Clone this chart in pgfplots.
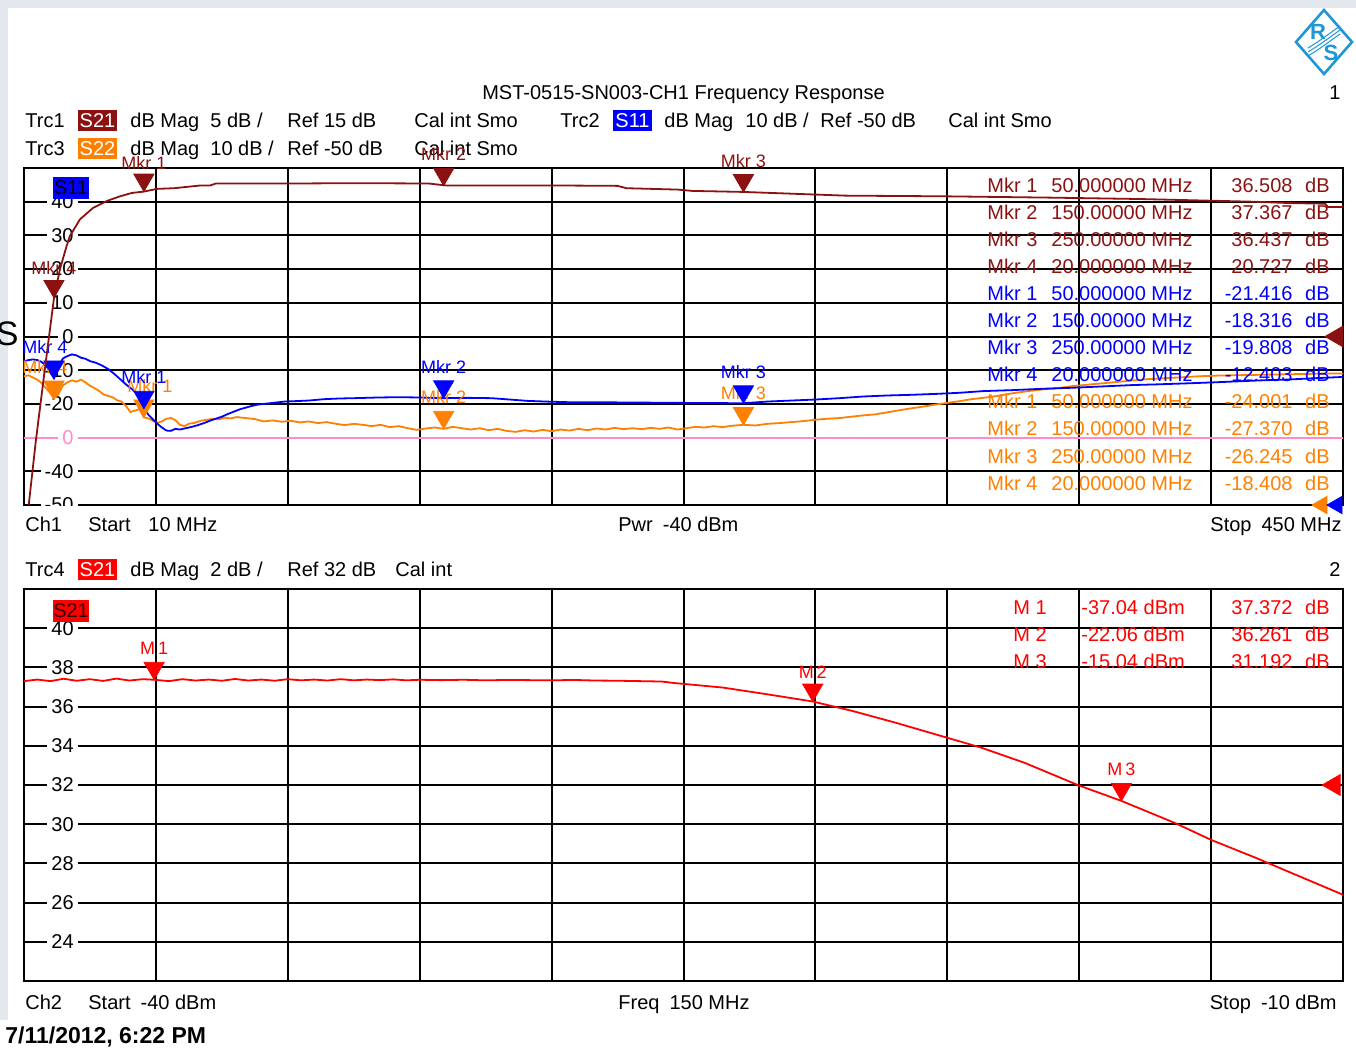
\documentclass[border=0pt]{standalone}
\usepackage{pgfplots}
\pgfplotsset{compat=1.18}
\usepackage{fontspec}
\setmainfont{Liberation Sans}
\definecolor{trcA}{RGB}{140,18,18}
\definecolor{trcB}{RGB}{0,0,255}
\definecolor{trcC}{RGB}{255,128,0}
\definecolor{trcD}{RGB}{255,0,0}
\definecolor{pinkl}{RGB}{255,140,200}
\definecolor{framegray}{RGB}{226,232,238}
\definecolor{rslogo}{RGB}{30,150,215}
\tikzset{
  tx/.style={anchor=base west, inner sep=0pt},
  txr/.style={anchor=base east, inner sep=0pt},
  tagbox/.style={inner sep=0pt, minimum width=19.5pt, minimum height=10.5pt, text=white},
  ylab/.style={anchor=east, fill=white, inner xsep=2pt, inner ysep=0.5pt},
  mlab/.style={anchor=base, inner sep=0pt, font=\fontsize{9}{10}\selectfont, yshift=12.5pt},
}
\pgfplotsset{
  vnagrid/.style={scale only axis, anchor=north west, width=659.5pt,
    xticklabels={}, yticklabels={}, major tick length=0pt,
    grid=major, major grid style={black, line width=1pt},
    axis line style={black, line width=1pt}, clip mode=individual},
  mkr/.style={only marks, mark=triangle*, mark size=5.8pt, mark options={yshift=5.8pt, rotate=180}},
  refm/.style={only marks, mark=triangle*, mark size=6pt, mark options={rotate=90}},
}
\begin{document}
\fontsize{10}{12}\selectfont
\begin{tikzpicture}
\path[use as bounding box] (0pt,0pt) rectangle (678pt,-525pt);
\begin{scope}[x=0.5pt,y=-0.5pt]
\fill[framegray] (0,0) rectangle (1356,8);
\fill[framegray] (0,0) rectangle (8,1020);
% R&S logo
\draw[rslogo, line width=1.3pt] (1324,10) -- (1352,42) -- (1324,74) -- (1296,42) -- cycle;
\node[rslogo, inner sep=0pt, font=\bfseries\fontsize{11}{11}\selectfont] at (1318,32) {R};
\node[rslogo, inner sep=0pt, font=\bfseries\fontsize{11}{11}\selectfont] at (1331,53) {S};
\draw[rslogo, line width=0.5pt] (1308,52) .. controls (1318,46) and (1326,40) .. (1340,30);
\draw[rslogo, line width=0.5pt] (1308,56) .. controls (1318,50) and (1326,44) .. (1340,34);
\draw[rslogo, line width=0.5pt] (1308,48) .. controls (1318,42) and (1326,36) .. (1340,26);
% big S at left
\node[anchor=base east, inner sep=0pt, font=\fontsize{17}{17}\selectfont] at (19,345) {S};
% title and headers
\node[anchor=base, inner sep=0pt] at (683.5,99) {MST-0515-SN003-CH1 Frequency Response};
\node[txr] at (1341,99) {1};
\node[tx] at (25,127) {Trc1};
\node[tagbox, fill=trcA] at (97.5,120.5) {S21};
\node[tx] at (130,127) {dB Mag};
\node[tx] at (210,127) {5 dB /};
\node[tx] at (287,127) {Ref 15 dB};
\node[tx] at (414,127) {Cal int Smo};
\node[tx] at (560,127) {Trc2};
\node[tagbox, fill=trcB] at (632.5,120.5) {S11};
\node[tx] at (664,127) {dB Mag};
\node[tx] at (745,127) {10 dB /};
\node[tx] at (820,127) {Ref -50 dB};
\node[tx] at (948,127) {Cal int Smo};
\node[tx] at (25,155) {Trc3};
\node[tagbox, fill=trcC] at (97.5,148.5) {S22};
\node[tx] at (130,155) {dB Mag};
\node[tx] at (210,155) {10 dB /};
\node[tx] at (287,155) {Ref -50 dB};
\node[tx] at (414,155) {Cal int Smo};
% footer channel 1
\node[tx] at (25,531) {Ch1};
\node[tx] at (88,531) {Start};
\node[tx] at (148,531) {10 MHz};
\node[tx] at (618,531) {Pwr\enspace -40 dBm};
\node[txr] at (1342,531) {Stop\enspace 450 MHz};
% header channel 2
\node[tx] at (25,576) {Trc4};
\node[tagbox, fill=trcD] at (97.5,569.5) {S21};
\node[tx] at (130,576) {dB Mag};
\node[tx] at (210,576) {2 dB /};
\node[tx] at (287,576) {Ref 32 dB};
\node[tx] at (395,576) {Cal int};
\node[txr] at (1341,576) {2};
% footer channel 2
\node[tx] at (25,1009) {Ch2};
\node[tx] at (88,1009) {Start\enspace -40 dBm};
\node[tx] at (618,1009) {Freq\enspace 150 MHz};
\node[txr] at (1337,1009) {Stop\enspace -10 dBm};
\node[tx, font=\bfseries\fontsize{11.5}{12}\selectfont] at (5,1043) {7/11/2012, 6:22 PM};
\end{scope}

% ---------------- channel 1, S11 / S22 scale ----------------
\begin{axis}[vnagrid, at={(12pt,-84pt)}, height=168.5pt,
  xmin=10, xmax=450, ymin=-50, ymax=50,
  xtick={54,98,...,406}, ytick={-40,-30,...,40}]
\addplot[pinkl, line width=1pt] coordinates {(10,-30) (450,-30)};
\node[ylab] at (axis cs:28,40) {40};
\node[ylab] at (axis cs:28,30) {30};
\node[ylab] at (axis cs:28,20) {20};
\node[ylab] at (axis cs:28,10) {10};
\node[ylab] at (axis cs:28,0) {0};
\node[ylab] at (axis cs:28,-10) {-10};
\node[ylab] at (axis cs:28,-20) {-20};
\node[ylab, text=pinkl] at (axis cs:28,-30) {0};
\node[ylab] at (axis cs:28,-40) {-40};
\begin{scope}
\clip (rel axis cs:0,0) rectangle (rel axis cs:1,1);
\node[ylab] at (axis cs:28,-50) {-50};
\end{scope}
\node[inner sep=0pt, minimum width=18pt, minimum height=11pt, fill=trcB, text=black] at (axis cs:25.7,44.2) {S11};
% S22 trace
\addplot[trcC, line width=0.9pt] coordinates {
(10,-11.8) (11.5,-11.5) (13,-12.2) (14,-12.6) (15.5,-13.5) (17,-15.0) (18.5,-16.5) (20,-18.4)
(21.5,-17.0) (23,-14.5) (24.5,-13.6) (26,-13.0) (27.5,-13.4) (29,-12.8) (30.5,-13.6) (32,-14.6)
(33.5,-15.3) (35,-16.1) (36.5,-17.2) (38,-17.6) (39.5,-18.0) (41,-18.9) (42.5,-19.3) (44,-20.6)
(45.5,-22.4) (47,-22.0) (48.5,-21.5) (50,-24.0) (51.5,-24.3) (53,-25.0) (54.5,-25.6) (56,-25.2)
(57.5,-24.4) (59,-24.2) (60.5,-24.8) (62,-26.2) (63.5,-26.6) (65,-25.9) (67,-25.6) (69,-25.0)
(71,-24.7) (73,-24.4) (75,-24.6) (77,-24.1) (79,-24.3) (81,-23.9) (84,-24.2) (87,-24.5)
(90,-25.2) (93,-24.9) (96,-25.3) (99,-25.0) (102,-25.5) (105,-25.2) (108,-25.7) (111,-25.4)
(114,-25.9) (117,-26.3) (120,-25.9) (123,-26.2) (126,-26.6) (129,-26.2) (132,-26.9) (135,-26.6)
(138,-27.2) (141,-27.7) (144,-27.3) (147,-27.0) (150,-27.4) (153,-26.8) (156,-27.2) (159,-27.6)
(162,-27.2) (165,-27.8) (168,-27.4) (171,-28.0) (174,-28.3) (177,-27.8) (180,-28.2) (183,-27.7)
(186,-28.1) (189,-27.6) (192,-27.9) (195,-27.4) (198,-27.8) (201,-27.3) (204,-27.6) (207,-27.1)
(210,-27.5) (213,-27.2) (216,-27.5) (219,-27.1) (222,-27.4) (225,-27.0) (228,-27.6) (231,-27.2)
(234,-26.8) (237,-27.0) (240,-26.6) (243,-26.9) (246,-26.5) (250,-26.2) (254,-26.4) (258,-25.9)
(262,-25.7) (266,-25.4) (270,-25.1) (274,-24.7) (278,-24.4) (282,-24.2) (286,-23.8) (290,-23.4)
(294,-23.1) (298,-22.5) (302,-21.9) (306,-21.3) (310,-20.8) (314,-20.2) (318,-19.7) (322,-19.2)
(326,-18.6) (330,-18.2) (335,-17.6) (340,-16.8) (345,-16.2) (350,-15.7) (355,-15.3) (360,-14.7)
(366,-14.2) (372,-13.7) (378,-13.2) (384,-12.7) (390,-12.4) (396,-12.1) (402,-11.8) (408,-11.6)
(414,-11.5) (420,-11.4) (426,-11.3) (432,-11.2) (438,-11.1) (444,-11.0) (450,-11.0)};
% S11 trace
\addplot[trcB, line width=0.9pt] coordinates {
(10,-7.3) (11.5,-7.0) (13,-6.8) (14.5,-7.0) (16,-7.6) (17.5,-8.8) (19,-11.0) (20,-12.4)
(21,-10.5) (22,-8.0) (23,-6.5) (24.5,-5.8) (26,-5.3) (27.5,-5.6) (29,-6.3) (30.5,-6.6)
(32,-7.3) (34,-7.8) (36,-8.6) (38,-9.6) (40,-11.0) (42,-12.6) (44,-14.2) (46,-15.6)
(47.5,-16.8) (49,-19.5) (50,-21.4) (51.5,-23.2) (53,-24.6) (54.5,-25.9) (56,-27.0) (57.5,-27.9)
(59,-28.0) (60.5,-27.4) (62,-27.6) (64,-27.2) (66,-26.8) (68,-26.3) (70,-25.7) (72,-25.0)
(74,-24.4) (76,-23.8) (78,-23.0) (80,-22.3) (82,-21.6) (84,-21.1) (86,-20.6) (88,-20.2)
(91,-19.9) (94,-19.6) (97,-19.3) (100,-19.2) (105,-19.0) (110,-18.6) (115,-18.4) (120,-18.3)
(128,-18.1) (135,-18.0) (142,-18.1) (150,-18.3) (158,-18.2) (166,-18.3) (172,-18.7) (178,-19.1)
(184,-19.3) (192,-19.5) (200,-19.5) (215,-19.6) (230,-19.7) (250,-19.8) (258,-19.3) (266,-19.0)
(274,-18.7) (282,-18.3) (290,-17.8) (298,-17.5) (306,-17.3) (315,-17.0) (322,-16.7) (330,-16.2)
(340,-15.9) (350,-15.5) (360,-15.2) (370,-14.8) (380,-14.4) (388,-14.2) (398,-13.9) (407,-13.6)
(415,-13.3) (423,-13.0) (431,-12.8) (440,-12.4) (450,-12.0)};
% S22 markers
\addplot[trcC, mkr] coordinates {(20,-18.408) (50,-24.001) (150,-27.370) (250,-26.245)};
\node[mlab, text=trcC, xshift=-4.5pt] at (axis cs:20,-18.408) {Mkr 4};
\node[mlab, text=trcC, xshift=3pt] at (axis cs:50,-24.001) {Mkr 1};
\node[mlab, text=trcC] at (axis cs:150,-27.370) {Mkr 2};
\node[mlab, text=trcC] at (axis cs:250,-26.245) {Mkr 3};
% S11 markers
\addplot[trcB, mkr] coordinates {(20,-12.403) (50,-21.416) (150,-18.316) (250,-19.808)};
\node[mlab, text=trcB, xshift=-4.5pt] at (axis cs:20,-12.403) {Mkr 4};
\node[mlab, text=trcB] at (axis cs:50,-21.416) {Mkr 1};
\node[mlab, text=trcB] at (axis cs:150,-18.316) {Mkr 2};
\node[mlab, text=trcB] at (axis cs:250,-19.808) {Mkr 3};
% reference position indicators
\addplot[trcC, refm, mark size=5pt] coordinates {(443,-50)};
\addplot[trcB, refm, mark size=5pt] coordinates {(448,-50)};
\end{axis}

% ---------------- channel 1, S21 scale (5 dB/div, ref 15 dB) ----------------
\begin{axis}[scale only axis, anchor=north west, width=659.5pt, at={(12pt,-84pt)}, height=168.5pt,
  xmin=10, xmax=450, ymin=-10, ymax=40, hide axis, clip mode=individual]
\addplot[trcA, line width=0.9pt] coordinates {
(10,-14) (11.6,-9.9) (14.0,-0.3) (17,10.3) (20,20.7) (22,25.0) (24.2,28.4) (25.3,29.9)
(28.7,32.4) (33.1,34.1) (37.6,35.1) (42,35.8) (46,36.3) (50,36.5) (54.3,36.9) (60,37.0)
(68.7,37.4) (72,37.4) (74,37.7) (90,37.7) (100,37.7) (120,37.75) (145,37.7) (151,37.4)
(190,37.4) (208,37.35) (211,37.0) (228,36.8) (233,36.6) (250,36.45) (256,36.35) (284,35.9)
(317,35.8) (353,35.6) (382,35.4) (420,35.0) (432,34.8) (444,34.7) (445,34.2) (450,34.2)};
\addplot[trcA, mkr] coordinates {(20,20.727) (50,36.508) (150,37.367) (250,36.437)};
\node[mlab, text=trcA, yshift=-1pt] at (axis cs:20,20.727) {Mkr 4};
\node[mlab, text=trcA, yshift=-1.5pt] at (axis cs:50,36.508) {Mkr 1};
\node[mlab, text=trcA] at (axis cs:150,37.367) {Mkr 2};
\node[mlab, text=trcA] at (axis cs:250,36.437) {Mkr 3};
\addplot[trcA, refm] coordinates {(448,15)};
\end{axis}

% ---------------- channel 2 ----------------
\begin{axis}[vnagrid, at={(12pt,-294.5pt)}, height=196pt,
  xmin=-40, xmax=-10, ymin=22, ymax=42,
  xtick={-37,-34,...,-13}, ytick={24,26,...,40}]
\node[ylab] at (axis cs:-38.77,40) {40};
\node[ylab] at (axis cs:-38.77,38) {38};
\node[ylab] at (axis cs:-38.77,36) {36};
\node[ylab] at (axis cs:-38.77,34) {34};
\node[ylab] at (axis cs:-38.77,32) {32};
\node[ylab] at (axis cs:-38.77,30) {30};
\node[ylab] at (axis cs:-38.77,28) {28};
\node[ylab] at (axis cs:-38.77,26) {26};
\node[ylab] at (axis cs:-38.77,24) {24};
\node[inner sep=0pt, minimum width=18pt, minimum height=11pt, fill=trcD, text=black!80!red] at (axis cs:-38.93,40.88) {S21};
\addplot[trcD, line width=0.9pt] coordinates {
(-40,37.30) (-39.7,37.38) (-39.4,37.30) (-39.1,37.42) (-38.8,37.32) (-38.5,37.40) (-38.2,37.31)
(-37.9,37.43) (-37.6,37.33) (-37.3,37.40) (-37.04,37.37) (-36.7,37.30) (-36.4,37.40) (-36.1,37.33)
(-35.8,37.38) (-35.5,37.32) (-35.2,37.41) (-34.9,37.33) (-34.6,37.38) (-34.3,37.32) (-34.0,37.40)
(-33.7,37.34) (-33.4,37.38) (-33.1,37.33) (-32.8,37.40) (-32.5,37.34) (-32.2,37.38) (-31.9,37.35)
(-31.6,37.39) (-31.3,37.34) (-31.0,37.37) (-30.5,37.35) (-30.0,37.37) (-29.5,37.34) (-29.0,37.36)
(-28.5,37.35) (-28.0,37.34) (-27.5,37.36) (-27.0,37.33) (-26.5,37.32) (-26.0,37.30) (-25.5,37.28)
(-25.2,37.20) (-25.0,37.16) (-24.1,36.97) (-23.1,36.63) (-22.06,36.26) (-21.16,35.78)
(-20.18,35.18) (-19.0,34.41) (-18.22,33.90) (-17.24,33.13) (-16.01,31.98) (-15.04,31.19)
(-13.81,30.05) (-13.0,29.20) (-12.0,28.30) (-11.0,27.35) (-10.0,26.40)};
\addplot[trcD, mkr] coordinates {(-37.04,37.372) (-22.06,36.261) (-15.04,31.192)};
\node[mlab, text=trcD] at (axis cs:-37.04,37.372) {M\,1};
\node[mlab, text=trcD, yshift=-1pt] at (axis cs:-22.06,36.261) {M\,2};
\node[mlab, text=trcD] at (axis cs:-15.04,31.192) {M\,3};
\addplot[trcD, refm] coordinates {(-10.2,32)};
\end{axis}

% ---------------- marker tables ----------------
\begin{scope}[x=0.5pt,y=-0.5pt]
\node[tx, text=trcA] at (987,192) {Mkr 1}; \node[tx, text=trcA] at (1051,192) {50.000000 MHz};
\node[txr, text=trcA] at (1293,192) {36.508}; \node[txr, text=trcA] at (1330,192) {dB};
\node[tx, text=trcA] at (987,219) {Mkr 2}; \node[tx, text=trcA] at (1051,219) {150.00000 MHz};
\node[txr, text=trcA] at (1293,219) {37.367}; \node[txr, text=trcA] at (1330,219) {dB};
\node[tx, text=trcA] at (987,246) {Mkr 3}; \node[tx, text=trcA] at (1051,246) {250.00000 MHz};
\node[txr, text=trcA] at (1293,246) {36.437}; \node[txr, text=trcA] at (1330,246) {dB};
\node[tx, text=trcA] at (987,273) {Mkr 4}; \node[tx, text=trcA] at (1051,273) {20.000000 MHz};
\node[txr, text=trcA] at (1293,273) {20.727}; \node[txr, text=trcA] at (1330,273) {dB};
\node[tx, text=trcB] at (987,300) {Mkr 1}; \node[tx, text=trcB] at (1051,300) {50.000000 MHz};
\node[txr, text=trcB] at (1293,300) {-21.416}; \node[txr, text=trcB] at (1330,300) {dB};
\node[tx, text=trcB] at (987,327) {Mkr 2}; \node[tx, text=trcB] at (1051,327) {150.00000 MHz};
\node[txr, text=trcB] at (1293,327) {-18.316}; \node[txr, text=trcB] at (1330,327) {dB};
\node[tx, text=trcB] at (987,354) {Mkr 3}; \node[tx, text=trcB] at (1051,354) {250.00000 MHz};
\node[txr, text=trcB] at (1293,354) {-19.808}; \node[txr, text=trcB] at (1330,354) {dB};
\node[tx, text=trcB] at (987,381) {Mkr 4}; \node[tx, text=trcB] at (1051,381) {20.000000 MHz};
\node[txr, text=trcB] at (1293,381) {-12.403}; \node[txr, text=trcB] at (1330,381) {dB};
\node[tx, text=trcC] at (987,408) {Mkr 1}; \node[tx, text=trcC] at (1051,408) {50.000000 MHz};
\node[txr, text=trcC] at (1293,408) {-24.001}; \node[txr, text=trcC] at (1330,408) {dB};
\node[tx, text=trcC] at (987,435) {Mkr 2}; \node[tx, text=trcC] at (1051,435) {150.00000 MHz};
\node[txr, text=trcC] at (1293,435) {-27.370}; \node[txr, text=trcC] at (1330,435) {dB};
\node[tx, text=trcC] at (987,463) {Mkr 3}; \node[tx, text=trcC] at (1051,463) {250.00000 MHz};
\node[txr, text=trcC] at (1293,463) {-26.245}; \node[txr, text=trcC] at (1330,463) {dB};
\node[tx, text=trcC] at (987,490) {Mkr 4}; \node[tx, text=trcC] at (1051,490) {20.000000 MHz};
\node[txr, text=trcC] at (1293,490) {-18.408}; \node[txr, text=trcC] at (1330,490) {dB};
\node[tx, text=trcD] at (1013,614) {M 1}; \node[tx, text=trcD] at (1081,614) {-37.04 dBm};
\node[txr, text=trcD] at (1293,614) {37.372}; \node[txr, text=trcD] at (1330,614) {dB};
\node[tx, text=trcD] at (1013,641) {M 2}; \node[tx, text=trcD] at (1081,641) {-22.06 dBm};
\node[txr, text=trcD] at (1293,641) {36.261}; \node[txr, text=trcD] at (1330,641) {dB};
\node[tx, text=trcD] at (1013,668) {M 3}; \node[tx, text=trcD] at (1081,668) {-15.04 dBm};
\node[txr, text=trcD] at (1293,668) {31.192}; \node[txr, text=trcD] at (1330,668) {dB};
\end{scope}
\end{tikzpicture}
\end{document}
